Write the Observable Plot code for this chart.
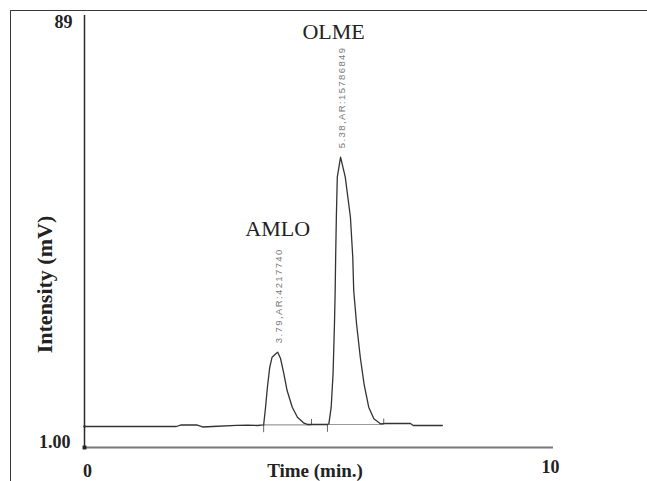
<!DOCTYPE html>
<html>
<head>
<meta charset="utf-8">
<script src="https://cdn.jsdelivr.net/npm/d3@7"></script>
<script src="https://cdn.jsdelivr.net/npm/@observablehq/plot@0.6"></script>
<style>
  html, body { margin: 0; padding: 0; background: #fff; }
  #wrap { position: relative; width: 647px; height: 481px; overflow: hidden; }
  #border { position: absolute; left: 10px; top: 10px; right: -5px; bottom: -5px;
            border-top: 1.5px solid #3a3a3a; border-left: 1.5px solid #3a3a3a; pointer-events: none; }
</style>
</head>
<body>
<div id="wrap"><div id="border"></div></div>
<script>
// Chromatogram trace (time in min, intensity in mV)
const times = [0, 1.96, 2.05, 2.39, 2.52, 2.73, 3.24, 3.48, 3.69, 3.82,
  3.86, 3.90, 3.95, 4.00, 4.09, 4.12, 4.18, 4.25, 4.32, 4.43,
  4.54, 4.68, 4.75, 4.93, 5.18, 5.21, 5.26, 5.30, 5.33, 5.345,
  5.355, 5.37, 5.39, 5.46, 5.56, 5.67, 5.72, 5.74, 5.80, 5.88,
  5.96, 6.06, 6.17, 6.31, 6.42, 6.95, 7.01, 7.63];
const intensities = [5.28, 5.28, 5.58, 5.62, 5.18, 5.28, 5.52, 5.56, 5.48, 5.62,
  9.15, 13.28, 17.36, 19.39, 20.21, 20.41, 19.13, 16.07, 12.61, 9.21,
  7.17, 5.95, 5.69, 5.69, 5.69, 5.83, 9.21, 16.07, 26.26, 32.98,
  39.77, 47.91, 56.06, 60.14, 56.06, 47.91, 39.77, 32.98, 26.26, 19.39,
  13.98, 9.21, 6.85, 5.83, 5.89, 5.89, 5.48, 5.48];

// Peaks
const peakNames = ["AMLO", "OLME"];
const peakApexTime = [4.12, 5.46];
const peakApexValue = [20.41, 60.14];
const peakRetention = ["3.79", "5.38"];
const peakArea = ["4217740", "15786849"];
const peakStart = [3.82, 5.18];
const peakEnd = [4.84, 6.38];
const peakBase = [5.62, 5.69];

// Axes
const xTickValues = [0, 10];
const xTickLabels = ["0", "10"];
const yTickValues = [1, 89];
const yTickLabels = ["1.00", "89"];
const xTitle = "Time (min.)";
const yTitle = "Intensity (mV)";

const trace = times.map((t, i) => ({t, v: intensities[i]}));
const peaks = peakNames.map((name, i) => ({
  name, t: peakApexTime[i], v: peakApexValue[i],
  label: `${peakRetention[i]},AR:${peakArea[i]}`,
  start: peakStart[i], end: peakEnd[i], base: peakBase[i]
}));
const xTicks = xTickValues.map((x, i) => ({x, label: xTickLabels[i]}));
const yTicks = yTickValues.map((y, i) => ({y, label: yTickLabels[i]}));

const serif = "'Liberation Serif', 'Times New Roman', serif";
const sans = "'Liberation Sans', Arial, sans-serif";

const chart = Plot.plot({
  width: 647,
  height: 481,
  marginLeft: 84,
  marginRight: 94,
  marginTop: 15,
  marginBottom: 34,
  style: {background: "transparent", overflow: "visible"},
  x: {domain: [0, 10], axis: null},
  y: {domain: [1, 89], axis: null},
  marks: [
    // axes lines
    Plot.ruleY([yTickValues[0]], {x1: xTickValues[0], x2: xTickValues[1], stroke: "#7a7a7a", strokeWidth: 2}),
    Plot.ruleX([xTickValues[0]], {y1: yTickValues[0], y2: yTickValues[1], stroke: "#2a2a2a", strokeWidth: 1.5}),
    Plot.dot([{x: 0, y: 1}], {x: "x", y: "y", r: 2.2, fill: "#222", symbol: "square"}),
    Plot.dot([trace[0]], {x: "t", y: "v", r: 1.2, fill: "#222"}),
    // integration baselines
    Plot.link(peaks, {x1: "start", x2: "end", y1: "base", y2: "base", stroke: "#9a9a9a", strokeWidth: 1.2}),
    Plot.ruleX(peaks, {x: "start", y1: "base", y2: d => d.base - 1.6, stroke: "#666", strokeWidth: 1}),
    Plot.ruleX(peaks, {x: "end", y1: "base", y2: d => d.base + 1.1, stroke: "#666", strokeWidth: 1}),
    // trace
    Plot.line(trace, {x: "t", y: "v", stroke: "#333", strokeWidth: 1.3}),
    // peak retention/area labels (rotated)
    Plot.text(peaks, {x: "t", y: "v", text: "label", rotate: -90, textAnchor: "start", dy: -9, dx: 1,
      fontFamily: sans, fontSize: 9.5, fill: "#7a7a7a"}),
    // peak names
    Plot.text(peaks.filter(d => d.name === "AMLO"), {x: "t", y: "v", text: "name", dy: -116, lineAnchor: "bottom",
      fontFamily: serif, fontSize: 22, fill: "#222"}),
    Plot.text(peaks.filter(d => d.name === "OLME"), {x: "t", y: "v", text: "name", dy: -118, dx: -7, lineAnchor: "bottom",
      fontFamily: serif, fontSize: 22, fill: "#222"}),
    // y tick labels
    Plot.text(yTicks.filter(d => d.y === 1), {x: 0, y: "y", text: "label", textAnchor: "end", lineAnchor: "bottom",
      dx: -14, fontFamily: serif, fontWeight: "bold", fontSize: 18, fill: "#222"}),
    Plot.text(yTicks.filter(d => d.y === 89), {x: 0, y: "y", text: "label", textAnchor: "end", lineAnchor: "top",
      dx: -12, fontFamily: serif, fontWeight: "bold", fontSize: 18, fill: "#222"}),
    // x tick labels
    Plot.text(xTicks.filter(d => d.x === 0), {x: "x", y: 1, text: "label", lineAnchor: "bottom", dx: 3, dy: 29,
      fontFamily: serif, fontWeight: "bold", fontSize: 18, fill: "#222"}),
    Plot.text(xTicks.filter(d => d.x === 10), {x: "x", y: 1, text: "label", lineAnchor: "bottom", dx: -3, dy: 25,
      fontFamily: serif, fontWeight: "bold", fontSize: 18, fill: "#222"}),
    // axis titles
    Plot.text([xTitle], {frameAnchor: "bottom", lineAnchor: "bottom", textAnchor: "middle", dx: -4, dy: 29,
      fontFamily: serif, fontWeight: "bold", fontSize: 19, fill: "#222"}),
    Plot.text([yTitle], {frameAnchor: "left", rotate: -90, textAnchor: "middle", dx: -40, dy: 53,
      fontFamily: serif, fontWeight: "bold", fontSize: 22, fill: "#222"})
  ]
});
d3.select(chart).selectAll("text")
  .filter(function() { return this.textContent.includes("AR:"); })
  .style("letter-spacing", "1.4px");
document.getElementById("wrap").insertBefore(chart, document.getElementById("border"));
chart.style.position = "absolute";
chart.style.left = "0";
chart.style.top = "0";
</script>
</body>
</html>
